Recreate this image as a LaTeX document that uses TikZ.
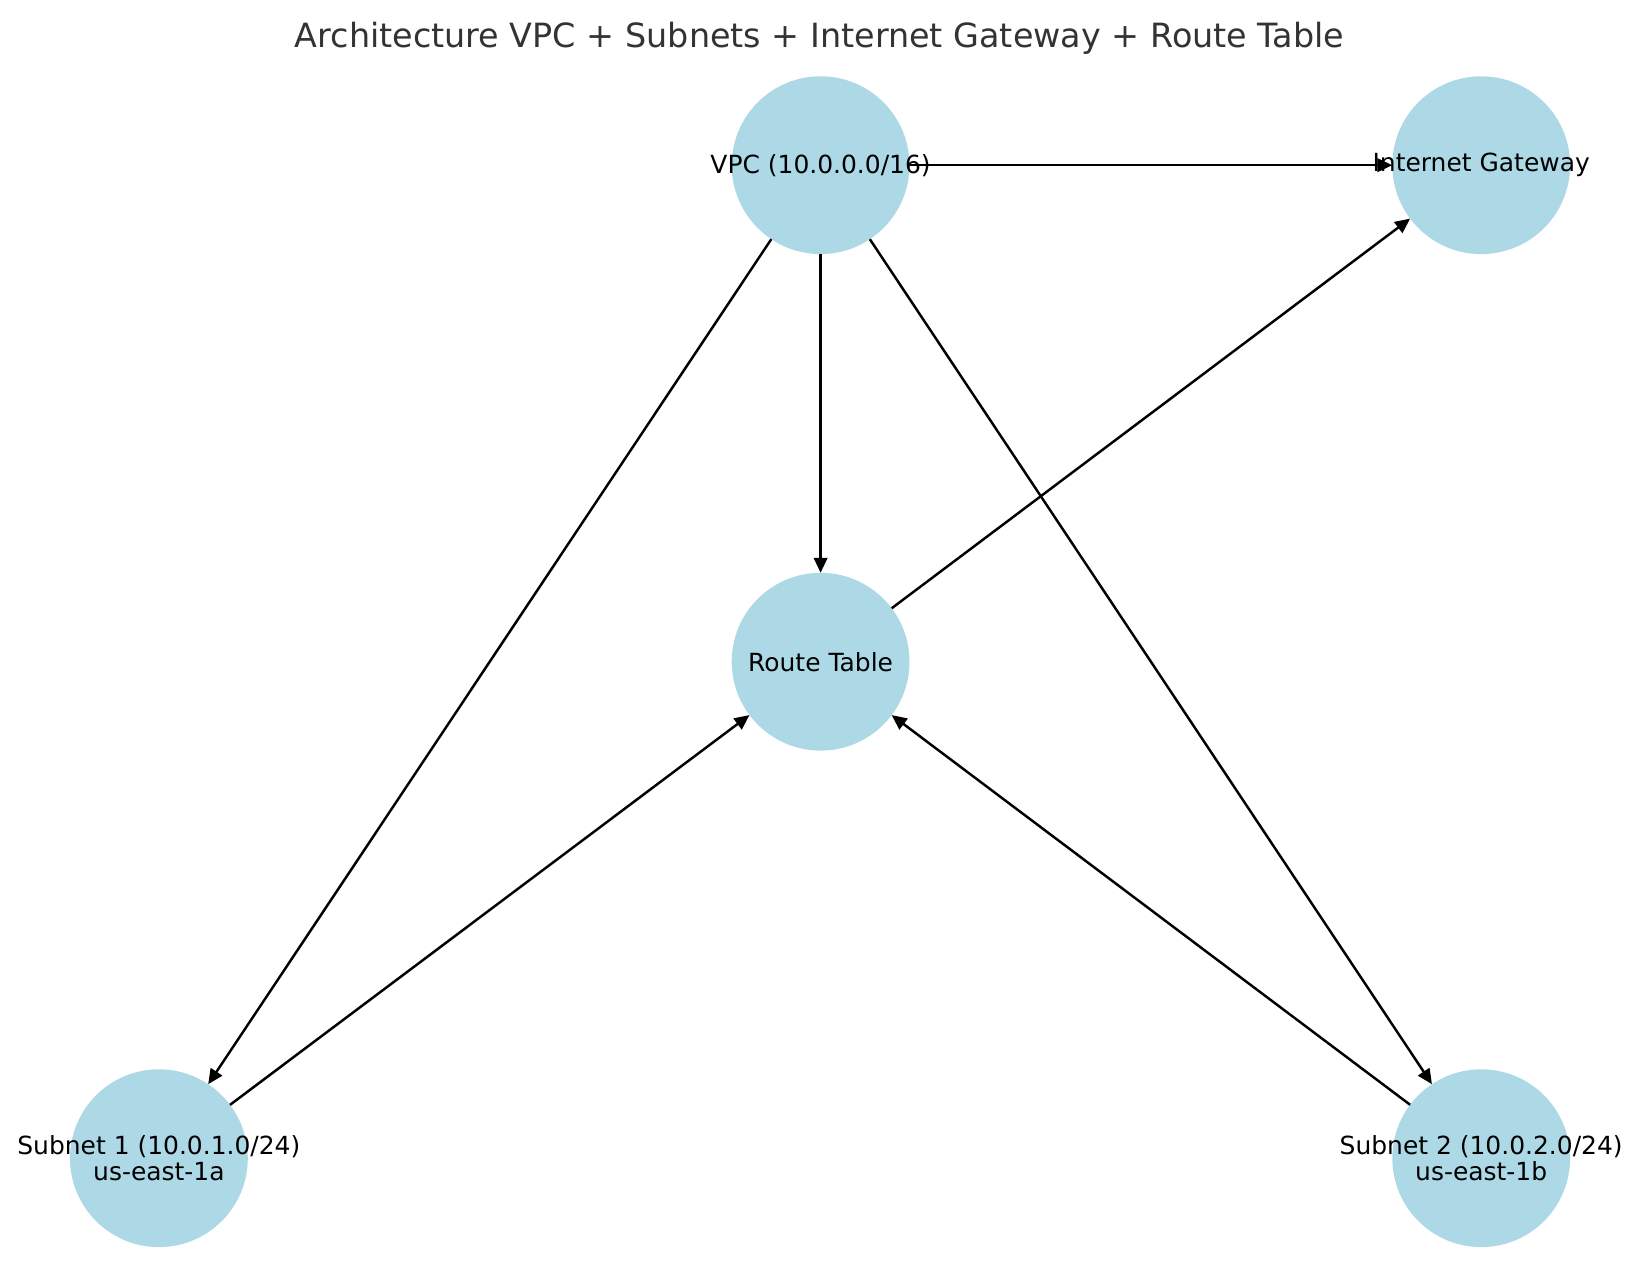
\documentclass[tikz,border=0pt]{standalone}
\usepackage{fontspec}
\setmainfont{DejaVu Sans}
\usepackage{tikz}
\usetikzlibrary{arrows.meta}

\definecolor{lightblue}{RGB}{173,216,230}
\definecolor{titlegray}{RGB}{51,51,51}

\begin{document}
\begin{tikzpicture}[
            netnode/.style={circle, fill=lightblue, minimum size=1.778cm, inner sep=0pt, outer sep=0pt},
            netlabel/.style={font=\fontsize{7.1}{7.6}\selectfont, align=center, inner sep=0pt},
            edge/.style={line width=0.7pt, -{Triangle[length=0.15cm, width=0.135cm]}}]

            \useasboundingbox (0,0) rectangle (16.39,-12.82);

            % Title
            \node[font=\fontsize{9.5}{11}\selectfont, text=titlegray, anchor=base] (title) at (8.196,-0.48)
                {Architecture VPC + Subnets + Internet Gateway + Route Table};

            % Network components
            \node[netnode] (vpc) at (8.206,-1.652) {};
            \node[netnode] (igw) at (14.812,-1.652) {};
            \node[netnode] (rt) at (8.206,-6.617) {};
            \node[netnode] (sub1) at (1.589,-11.582) {};
            \node[netnode] (sub2) at (14.812,-11.582) {};

            % Labels
            \node[netlabel] at (vpc) {VPC (10.0.0.0/16)};
            \node[netlabel] at (igw) {Internet Gateway};
            \node[netlabel] at (rt) {Route Table};
            \node[netlabel] at (sub1) {Subnet 1 (10.0.1.0/24)\\us-east-1a};
            \node[netlabel] at (sub2) {Subnet 2 (10.0.2.0/24)\\us-east-1b};

            % Connections
            \draw[edge] (vpc) -- (igw);
            \draw[edge] (vpc) -- (rt);
            \draw[edge] (vpc) -- (sub1);
            \draw[edge] (vpc) -- (sub2);
            \draw[edge] (rt) -- (igw);
            \draw[edge] (sub1) -- (rt);
            \draw[edge] (sub2) -- (rt);
        \end{tikzpicture}
\end{document}
